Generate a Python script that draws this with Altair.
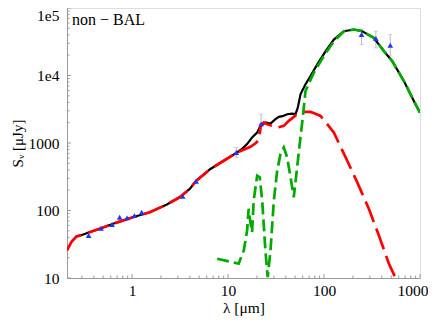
import altair as alt
import pandas as pd

# ---- data ----
red_lam = [0.21, 0.233, 0.263, 0.348, 0.459, 0.634, 1.02, 1.53, 2.28, 3.13, 3.99, 4.68, 6.55, 9.02,
           12.4, 17.1, 19.5, 20.8, 22.0, 23.6, 25.6, 28.8, 32.5, 38.1, 43.0, 52.5, 61.5, 72.3, 81.5,
           92.0, 126.5, 174.6, 222, 293, 373, 474, 556]
red_s = [25.6, 34, 41.2, 46.8, 53.6, 63.5, 79.4, 94.2, 122, 157, 209, 277, 412, 546,
         724, 879, 1000, 1104, 1860, 2010, 1900, 1795, 1694, 1795, 2130, 2670, 2885, 2885, 2720,
         2520, 1430, 546, 261, 106, 42.7, 16.3, 10]

black_lam = [0.27, 0.348, 0.459, 0.634, 1.02, 1.53, 2.28, 3.13, 3.99, 4.68, 6.55, 9.02, 12.4, 14.0,
             15.8, 17.8, 20.1, 21.8, 24.5, 27.7, 31.2, 33.8, 37.0, 41.3, 46.6, 50.5, 53.3, 56.9,
             64.1, 72.3, 85, 104, 126.6, 161, 205, 250, 330, 421, 514, 679, 863, 998]
black_s = [41.2, 46.8, 53.6, 63.5, 79.4, 94.2, 122, 157, 209, 277, 412, 546, 724, 820,
           964, 1205, 1430, 1795, 2010, 1940, 2250, 2440, 2500, 2670, 2720, 2670, 3340, 5270,
           7400, 9820, 14600, 22950, 34100, 45300, 48000, 45300, 36100, 22950, 16300, 8280, 4200, 2820]

green_lam = [7.7, 12.9, 14.6, 15.8, 16.4, 17.1, 17.8, 18.5, 20.1, 21.4, 22.7, 24.5, 25.9, 27.7,
             30.0, 32.5, 35.2, 38.1, 41.3, 44.8, 48.4, 52.0, 54.8, 57.9, 61.1, 64.1, 78.3, 99.6,
             126.6, 161, 205, 250, 330, 421, 514, 679, 863, 998]
green_s = [19.3, 16.3, 25.6, 50.6, 106, 67, 47.7, 140, 328, 310, 140, 25.6, 10.3, 25.6,
           140, 389, 686, 859, 611, 310, 157, 389, 767, 1510, 2985, 5890, 11000, 19500,
           32200, 45300, 48000, 45300, 36100, 22950, 16300, 8280, 4200, 2820]

pts_lam = [0.353, 0.475, 0.619, 0.743, 0.887, 1.057, 1.26, 3.37, 4.65, 12.2, 22.1, 246, 347, 490]
pts_s = [42.7, 54.7, 62.1, 79.5, 77.8, 84.1, 94.2, 162, 270, 724, 1901, 40450, 35300, 28100]

err_lam = [12.2, 22.1, 246, 347, 490]
err_lo = [611, 1430, 28800, 25700, 19400]
err_hi = [859, 2670, 49000, 45300, 40400]

x_major = [1, 10, 100, 1000]
x_minor = [m * d for d in [0.1, 1, 10, 100] for m in range(2, 10) if 0.21 <= m * d <= 1000]
y_major = [10, 100, 1000, 10000, 100000]
y_minor = [m * d for d in [10, 100, 1000, 10000] for m in range(2, 10)]

label_text = "non \u2212 BAL"

# ---- chart ----
FONT = "Liberation Serif, Times New Roman, DejaVu Serif, serif"
GRAY = "#9a9a9a"

xscale = alt.Scale(type="log", domain=[0.21, 1000], nice=False)
yscale = alt.Scale(type="log", domain=[10, 100000], nice=False)

xaxis = alt.Axis(values=x_major, format="d", title="\u03bb [\u03bcm]", ticks=False, grid=False,
                 labelFlush=True, labelFlushOffset=8, labelOverlap=False, domainColor=GRAY, domainWidth=1,
                 labelFont=FONT, labelFontSize=15.5, labelColor="black", labelPadding=5,
                 titleFont=FONT, titleFontSize=15.5, titleFontWeight="normal", titleColor="black",
                 titleBaseline="top", titleY=22)
yaxis = alt.Axis(values=y_major,
                 labelExpr="datum.value >= 99999 ? '1e5' : datum.value >= 9999 ? '1e4' : format(datum.value, 'd')",
                 labelBaseline={"condition": {"test": "datum.value >= 99999", "value": "top"}, "value": "middle"},
                 title="S\u1d65 [\u03bcJy]", ticks=False, grid=False,
                 labelFlush=False, labelOverlap=False, domainColor=GRAY, domainWidth=1,
                 labelFont=FONT, labelFontSize=15.5, labelColor="black", labelPadding=8,
                 titleFont=FONT, titleFontSize=15, titleFontWeight="normal", titleColor="black",
                 titleX=-42)


def X(f):
    return alt.X(f, type="quantitative", scale=xscale, axis=xaxis)


def Y(f):
    return alt.Y(f, type="quantitative", scale=yscale, axis=yaxis)


df_black = pd.DataFrame({"lam": black_lam, "s": black_s})
df_red = pd.DataFrame({"lam": red_lam, "s": red_s})
df_green = pd.DataFrame({"lam": green_lam, "s": green_s})
df_pts = pd.DataFrame({"lam": pts_lam, "s": pts_s})
df_err = pd.DataFrame({"lam": err_lam, "lo": err_lo, "hi": err_hi})

H = 270

black = alt.Chart(df_black).mark_line(color="black", strokeWidth=2.2, clip=True).encode(X("lam"), Y("s"))
red = alt.Chart(df_red).mark_line(color="#ff0000", strokeWidth=2.7, strokeDash=[22, 7], clip=True).encode(X("lam"), Y("s"))
green = alt.Chart(df_green).mark_line(color="#00aa00", strokeWidth=2.7, strokeDash=[12, 5], clip=True).encode(X("lam"), Y("s"))

err = alt.Chart(df_err).mark_rule(color="#bbbbbb", strokeWidth=1).encode(X("lam"), Y("lo"), y2="hi")
cap_hi = alt.Chart(df_err).mark_point(shape="stroke", size=16, color="#bbbbbb", strokeWidth=1).encode(X("lam"), Y("hi"))
cap_lo = alt.Chart(df_err).mark_point(shape="stroke", size=16, color="#bbbbbb", strokeWidth=1).encode(X("lam"), Y("lo"))
pts = alt.Chart(df_pts).mark_point(shape="triangle-up", filled=True, size=32, color="#1f35ff", opacity=1).encode(X("lam"), Y("s"))

xt_major = alt.Chart(pd.DataFrame({"v": x_major})).mark_rule(color=GRAY, strokeWidth=1).encode(
    X("v"), y=alt.value(H), y2=alt.value(H - 4))
xt_minor = alt.Chart(pd.DataFrame({"v": x_minor})).mark_rule(color=GRAY, strokeWidth=1).encode(
    X("v"), y=alt.value(H), y2=alt.value(H - 2.5))
yt_major = alt.Chart(pd.DataFrame({"v": y_major})).mark_rule(color=GRAY, strokeWidth=1).encode(
    Y("v"), x=alt.value(0), x2=alt.value(4))
yt_minor = alt.Chart(pd.DataFrame({"v": y_minor})).mark_rule(color=GRAY, strokeWidth=1).encode(
    Y("v"), x=alt.value(0), x2=alt.value(2.5))

txt = alt.Chart(pd.DataFrame({"t": [label_text]})).mark_text(
    align="left", baseline="middle", font=FONT, fontSize=16, color="black").encode(
    x=alt.value(5), y=alt.value(12), text="t:N")

chart = alt.layer(xt_minor, xt_major, yt_minor, yt_major, err, cap_hi, cap_lo,
                  black, red, green, pts, txt).properties(
    width=353, height=H,
    autosize=alt.AutoSizeParams(type="none"),
    padding={"left": 59, "top": 0, "right": 8, "bottom": 45},
).configure_view(stroke=GRAY, strokeWidth=1).configure(background="white")

chart.save("out.html", embed_options={"renderer": "svg", "actions": False})
